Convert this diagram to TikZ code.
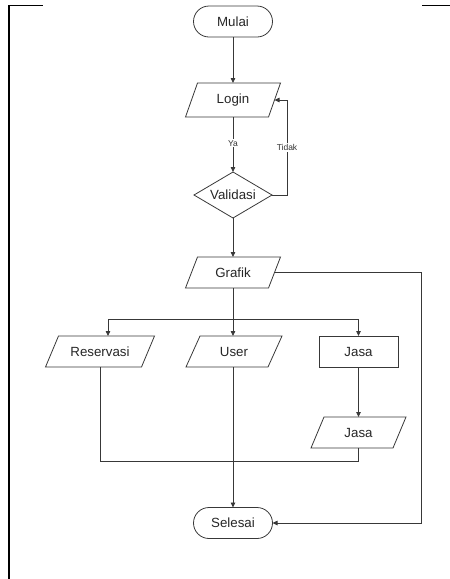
\documentclass[tikz,border=0pt]{standalone}
\usepackage{fontspec}
\setmainfont{Liberation Sans}
\usetikzlibrary{shapes.geometric,arrows.meta}
\definecolor{ln}{gray}{0.22}
\tikzset{
  shapeline/.style={draw=ln, line width=0.8pt},
  conn/.style={draw=ln, line width=0.8pt},
  arr/.style={conn, -{Triangle[length=5pt,width=4.5pt]}},
  txt/.style={font=\fontsize{13.3}{15}\selectfont, text=black!85},
  iotext/.style={txt, inner sep=0pt, outer sep=0pt},
  term/.style={txt, shapeline, rounded corners=15.5pt, minimum width=79pt, minimum height=31pt, inner sep=0pt, outer sep=0pt},
  procbox/.style={txt, shapeline, minimum width=79pt, minimum height=31pt, inner sep=0pt, outer sep=0pt},
  decision/.style={txt, shapeline, diamond, aspect=1.7, minimum width=78pt, minimum height=46pt, inner sep=0pt, outer sep=0pt},
  lbl/.style={font=\fontsize{8.5}{10}\selectfont, text=black!80, fill=white, inner sep=1pt},
  frameline/.style={draw=black, line width=1.6pt}
}
% name, x, y, halfwidth, halfheight, slant, text
\newcommand\iobox[7]{%
  \node[iotext, minimum width=#4*2pt, minimum height=#5*2pt] (#1) at (#2,#3) {#7};
  \draw[shapeline] ([xshift=#6pt]#1.north west) -- ([xshift=#6pt]#1.north east)
     -- ([xshift=-#6pt]#1.south east) -- ([xshift=-#6pt]#1.south west) -- cycle;
}
\begin{document}
\begin{tikzpicture}[x=1pt,y=-1pt]
\useasboundingbox (0,0) rectangle (450,579);
% frame remnants
\draw[frameline] (9,5.5) -- (9,579);
\draw[frameline] (8.2,5.5) -- (43,5.5);
\draw[frameline] (422,5.5) -- (450,5.5);

% nodes
\node[term] (mulai) at (233,21.5) {Mulai};
\iobox{login}{233}{100}{41.5}{17}{6}{Login}
\node[decision] (valid) at (233,195) {Validasi};
\iobox{grafik}{233}{272.5}{41.5}{15.5}{6}{Grafik}
\iobox{res}{100}{351.5}{48}{15.5}{6.5}{Reservasi}
\iobox{user}{234}{351.5}{41}{15.5}{7}{User}
\node[procbox] (jasa) at (358.5,351.5) {Jasa};
\iobox{jasab}{358.5}{432.5}{41}{15.5}{6.5}{Jasa}
\node[term] (selesai) at (233,523) {Selesai};

\coordinate (tidak) at (287,195);
\coordinate (br) at (233,319);
\coordinate (gr) at (421,272.5);
\coordinate (jn) at (100,461);

% connectors
\draw[arr] (mulai) -- (login);
\draw[arr] (login) -- node[lbl, pos=0.48] {Ya} (valid);
\draw[arr] (valid.east) -- (tidak) |- node[lbl, pos=0.25] {Tidak} (login.east);
\draw[arr] (valid) -- (grafik);
\draw[conn] (grafik) -- (br);
\draw[arr] (br) -| ([xshift=8pt]res.north);
\draw[arr] (br) -- (br |- user.north);
\draw[arr] (br) -| (jasa.north);
\draw[arr] (jasa) -- (jasab);
\draw[conn] (res.south) -- (jn) -| (jasab.south);
\draw[arr] (br |- user.south) -- (selesai);
\draw[arr] (grafik.east) -- (gr) |- (selesai.east);
\end{tikzpicture}
\end{document}
